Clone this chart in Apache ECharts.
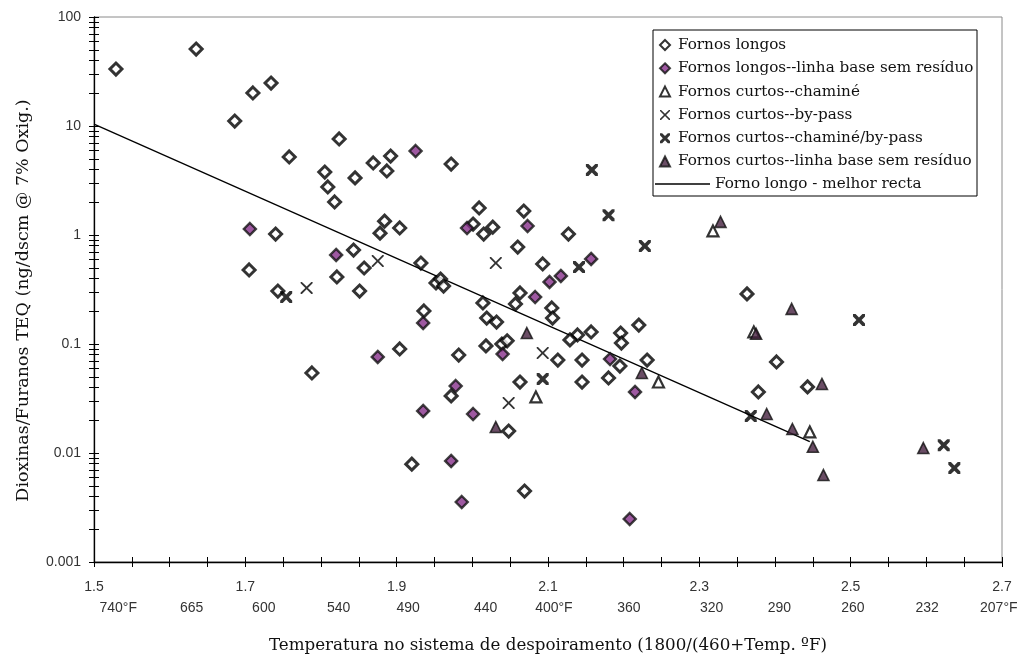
<!DOCTYPE html>
<html><head><meta charset="utf-8">
<script src="https://cdn.jsdelivr.net/npm/echarts@6/dist/echarts.min.js"></script>
<style>html,body{margin:0;padding:0;background:#fff}#c{width:1026px;height:657px}</style>
</head><body><div id="c"></div>
<script>
// ---- data ----
const xLabelValues = [1.5, 1.7, 1.9, 2.1, 2.3, 2.5, 2.7];
const fahrenheitValues = [740, 665, 600, 540, 490, 440, 400, 360, 320, 290, 260, 232, 207];
const fahrenheitLabels = ['740°F', '665', '600', '540', '490', '440', '400°F', '360', '320', '290', '260', '232', '207°F'];

const seriesNames = [
  'Fornos longos',
  'Fornos longos--linha base sem resíduo',
  'Fornos curtos--chaminé',
  'Fornos curtos--by-pass',
  'Fornos curtos--chaminé/by-pass',
  'Fornos curtos--linha base sem resíduo'
];
const lineName = 'Forno longo - melhor recta';

const fornosLongos = [
  [1.529,33.3],[1.635,50.8],[1.710,20.1],[1.734,24.8],[1.686,11.1],[1.824,7.6],[1.758,5.2],[1.892,5.3],
  [1.869,4.58],[1.887,3.87],[1.805,3.78],[1.845,3.34],[1.809,2.76],[1.818,2.01],[1.884,1.34],[1.904,1.16],
  [1.878,1.04],[1.740,1.02],[1.843,0.728],[1.705,0.478],[1.743,0.306],[1.857,0.498],[1.821,0.412],[1.851,0.306],
  [1.788,0.0542],[1.972,4.48],[2.009,1.77],[2.068,1.66],[2.001,1.26],[2.027,1.18],[2.015,1.02],[2.127,1.02],
  [2.060,0.776],[1.932,0.553],[2.093,0.542],[1.952,0.363],[1.958,0.394],[1.962,0.340],[2.063,0.294],[2.057,0.233],
  [2.014,0.238],[2.105,0.214],[2.106,0.173],[1.936,0.201],[2.019,0.173],[2.032,0.159],[2.157,0.129],[2.139,0.121],
  [2.129,0.109],[2.196,0.126],[2.197,0.102],[2.220,0.149],[1.982,0.0792],[2.018,0.0960],[2.039,0.100],[2.046,0.107],
  [2.113,0.0713],[2.145,0.0713],[2.231,0.0713],[2.195,0.0628],[2.180,0.0488],[2.145,0.0448],[2.063,0.0448],[1.972,0.0334],
  [2.048,0.0159],[1.920,0.0079],[2.069,0.00448],[1.904,0.0900],[2.363,0.288],[2.402,0.0684],[2.378,0.0363],[2.443,0.0404]
];
const fornosLongosBase = [
  [1.706,1.135],[1.925,5.90],[1.820,0.656],[1.875,0.0761],[1.935,0.156],[1.935,0.0243],[1.993,1.16],[2.073,1.21],
  [2.157,0.603],[2.117,0.421],[2.102,0.371],[2.083,0.270],[2.040,0.0809],[2.182,0.0727],[2.215,0.0363],[1.978,0.0412],
  [2.001,0.0228],[1.972,0.00845],[1.986,0.00355],[2.208,0.00248]
];
const curtosChamine = [[2.084,0.0327],[2.246,0.0448],[2.318,1.09],[2.372,0.129],[2.446,0.0156]];
const curtosByPass = [[1.781,0.327],[1.875,0.577],[2.031,0.553],[2.093,0.0826],[2.048,0.0288]];
const curtosChamineByPass = [
  [1.754,0.270],[2.158,3.95],[2.180,1.52],[2.228,0.793],[2.141,0.508],[2.093,0.0477],[2.368,0.0218],
  [2.511,0.166],[2.623,0.0118],[2.637,0.00728]
];
const curtosBase = [
  [2.072,0.126],[2.031,0.0173],[2.224,0.0542],[2.328,1.32],[2.422,0.210],[2.375,0.124],[2.462,0.0430],
  [2.389,0.0228],[2.423,0.0166],[2.450,0.0114],[2.464,0.00628],[2.596,0.0111]
];
const melhorRecta = [[1.5,10.4],[2.446,0.0127]];

// ---- styling helpers ----
const sans = 'Liberation Sans';
const serif = 'DejaVu Serif';
const thinX = 'path://M0,0H1.3L6,4.7L10.7,0H12V1.3L7.3,6L12,10.7V12H10.7L6,7.3L1.3,12H0V10.7L4.7,6L0,1.3Z';
const thickX = 'path://M0,0H2.6L6,3.4L9.4,0H12V2.6L8.6,6L12,9.4V12H9.4L6,8.6L2.6,12H0V9.4L3.4,6L0,2.6Z';

// log-spaced tick positions in exponent space (axis decoration)
const logTicks = [];
for (let n = -3; n < 2; n++) for (let k = 1; k <= 9; k++) logTicks.push(n + Math.log10(k));
logTicks.push(2);

const chart = echarts.init(document.getElementById('c'));
const auxY = (inside) => ({
  type: 'value', min: -3, max: 2, position: 'left',
  axisLine: { show: false, onZero: false }, axisLabel: { show: false }, splitLine: { show: false },
  axisTick: { show: true, inside: inside, length: 5, customValues: logTicks, lineStyle: { color: '#000', width: 1 } }
});

chart.setOption({
  backgroundColor: '#fff',
  animation: false,
  grid: { left: 94, right: 24, top: 17, bottom: 95, show: true, borderColor: '#8a8a8a', borderWidth: 1,
          containLabel: false, outerBoundsMode: 'none' },
  xAxis: [
    {
      type: 'value', min: 1.5, max: 2.7, interval: 0.05,
      name: 'Temperatura no sistema de despoiramento (1800/(460+Temp. ºF)',
      nameLocation: 'middle', nameGap: 75,
      nameTextStyle: { fontFamily: serif, fontSize: 16.7, color: '#111' },
      axisLine: { onZero: false, lineStyle: { color: '#000', width: 1.3 } },
      axisTick: { show: true, length: 5, lineStyle: { color: '#000' } },
      axisLabel: { customValues: xLabelValues, fontFamily: sans, fontSize: 14, color: '#333', margin: 18 },
      splitLine: { show: false }
    },
    {
      // second label row (°F), placed as an annotation axis
      type: 'value', min: 1.467, max: 2.703, position: 'bottom', offset: 21,
      axisLine: { show: false, onZero: false }, axisTick: { show: false }, splitLine: { show: false },
      axisLabel: {
        customValues: fahrenheitValues.map(f => 1800 / (460 + f)),
        fontFamily: sans, fontSize: 14, color: '#333', margin: 18,
        formatter: (v) => {
          const f = 1800 / v - 460;
          let best = 0;
          fahrenheitValues.forEach((t, i) => { if (Math.abs(t - f) < Math.abs(fahrenheitValues[best] - f)) best = i; });
          return fahrenheitLabels[best];
        }
      }
    },
    {
      type: 'value', min: 1.5, max: 2.7, interval: 0.05, position: 'bottom',
      axisLine: { show: false, onZero: false }, axisLabel: { show: false }, splitLine: { show: false },
      axisTick: { show: true, inside: true, length: 5, lineStyle: { color: '#000' } }
    }
  ],
  yAxis: [
    {
      type: 'log', logBase: 10, min: 0.001, max: 100,
      name: 'Dioxinas/Furanos TEQ (ng/dscm @ 7% Oxig.)',
      nameLocation: 'middle', nameGap: 62,
      nameTextStyle: { fontFamily: serif, fontSize: 17.5, color: '#111', padding: [0, 22, 0, 0] },
      axisLine: { show: true, onZero: false, lineStyle: { color: '#000', width: 1.3 } },
      axisTick: { show: false },
      axisLabel: { fontFamily: sans, fontSize: 14, color: '#333', margin: 13 },
      splitLine: { show: false }
    },
    auxY(false),
    auxY(true)
  ],
  legend: [
    {
      data: seriesNames, orient: 'vertical', left: 659, top: 37, padding: 0,
      itemWidth: 10, itemHeight: 10, itemGap: 7.3, selectedMode: false, z: 6,
      textStyle: { fontFamily: serif, fontSize: 15.2, color: '#111', lineHeight: 16, padding: [0, 0, 0, 3] }
    },
    {
      data: [{ name: lineName, icon: 'rect' }], orient: 'vertical', left: 655, top: 176, padding: 0,
      itemWidth: 55, itemHeight: 1.3, selectedMode: false, z: 6,
      textStyle: { fontFamily: serif, fontSize: 15.2, color: '#111', lineHeight: 16 }
    }
  ],
  graphic: [{
    type: 'rect', z: 5, shape: { x: 653, y: 30, width: 324, height: 166 },
    style: { fill: '#fff', stroke: '#000', lineWidth: 1 }
  }],
  series: [
    { name: seriesNames[0], type: 'scatter', data: fornosLongos, symbol: 'diamond', symbolSize: 12,
      itemStyle: { color: '#fff', borderColor: '#000', borderWidth: 3 } },
    { name: seriesNames[1], type: 'scatter', data: fornosLongosBase, symbol: 'diamond', symbolSize: 12,
      itemStyle: { color: '#86308a', borderColor: '#111', borderWidth: 2.4 } },
    { name: seriesNames[2], type: 'scatter', data: curtosChamine, symbol: 'triangle', symbolSize: 11,
      itemStyle: { color: '#fff', borderColor: '#000', borderWidth: 2.2 } },
    { name: seriesNames[3], type: 'scatter', data: curtosByPass, symbol: thinX, symbolSize: 12,
      itemStyle: { color: '#000' } },
    { name: seriesNames[4], type: 'scatter', data: curtosChamineByPass, symbol: thickX, symbolSize: 12,
      itemStyle: { color: '#000' } },
    { name: seriesNames[5], type: 'scatter', data: curtosBase, symbol: 'triangle', symbolSize: 11,
      itemStyle: { color: '#45203f', borderColor: '#111', borderWidth: 1.6 } },
    { name: lineName, type: 'line', data: melhorRecta, symbol: 'none', showSymbol: false,
      lineStyle: { color: '#000', width: 1.3 }, itemStyle: { color: '#000' }, z: 1 }
  ]
});
</script></body></html>
